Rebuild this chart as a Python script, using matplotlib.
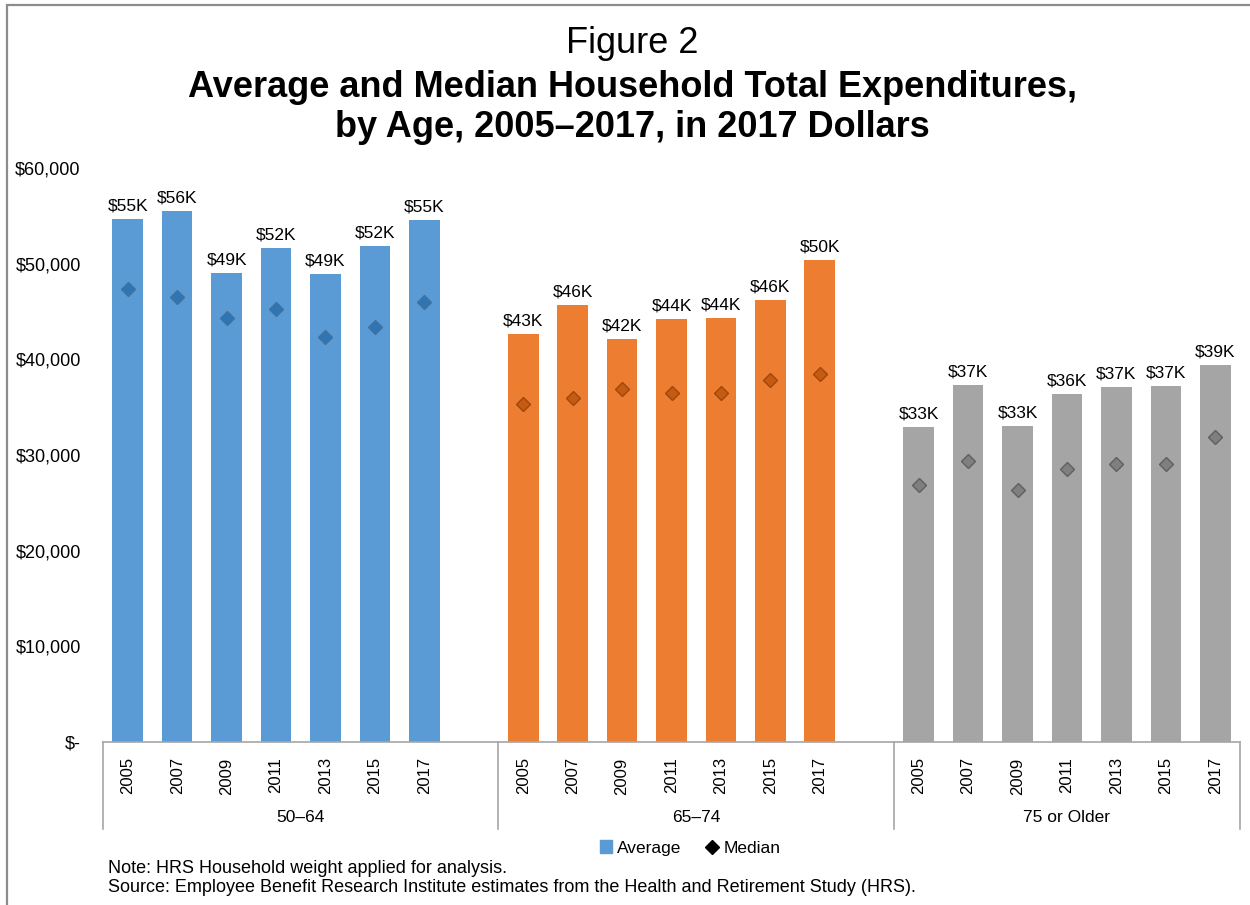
import numpy as np
import matplotlib
matplotlib.use('Agg')
import matplotlib.pyplot as plt
from matplotlib.lines import Line2D
from matplotlib.patches import Patch, Rectangle
from matplotlib.ticker import FuncFormatter

plt.rcParams['font.family'] = ['Liberation Sans', 'DejaVu Sans']

age_groups = ['50–64', '65–74', '75 or Older']
years = ['2005', '2007', '2009', '2011', '2013', '2015', '2017']

# household total expenditures, 2017 dollars
average_50_64 = [54700, 55550, 49000, 51600, 48900, 51800, 54550]
median_50_64 = [47400, 46500, 44300, 45300, 42300, 43400, 46000]
average_65_74 = [42600, 45700, 42100, 44200, 44300, 46200, 50400]
median_65_74 = [35300, 36000, 36900, 36500, 36500, 37800, 38500]
average_75_plus = [32900, 37300, 33000, 36400, 37100, 37200, 39400]
median_75_plus = [26900, 29400, 26300, 28500, 29100, 29100, 31900]

averages = [average_50_64, average_65_74, average_75_plus]
medians = [median_50_64, median_65_74, median_75_plus]
bar_colors = ['#5B9BD5', '#ED7D31', '#A5A5A5']
median_colors = ['#2E75B6', '#C55A11', '#7F7F7F']
median_edges = ['#41719C', '#A0470E', '#606060']
axis_gray = '#A6A6A6'

fig = plt.figure(figsize=(12.5, 9.05), dpi=100)
ax = fig.add_axes([103 / 1250, 1 - 742 / 905, 1137 / 1250, 574 / 905])

tick_pos, tick_lab = [], []
bounds = [-0.5]
start = 0
for g, name in enumerate(age_groups):
    x = np.arange(len(years)) + start
    ax.bar(x, averages[g], width=0.62, color=bar_colors[g], zorder=2)
    ax.plot(x, medians[g], linestyle='none', marker='D', ms=7,
            mfc=median_colors[g], mec=median_edges[g], mew=1, zorder=3)
    for xi, v in zip(x, averages[g]):
        ax.annotate('${:.0f}K'.format(v / 1000), (xi, v), xytext=(0, 4),
                    textcoords='offset points', ha='center', va='bottom',
                    fontsize=12.5)
    tick_pos += list(x)
    tick_lab += years
    # one empty slot between groups, none after the last
    end = x[-1] + (1.5 if g < len(age_groups) - 1 else 0.5)
    bounds.append(end)
    start = x[-1] + 2

ax.set_xlim(-0.5, bounds[-1])
ax.set_ylim(0, 60000)
ax.set_yticks(range(0, 60001, 10000))
ax.yaxis.set_major_formatter(FuncFormatter(
    lambda v, p: '$-' if v == 0 else '${:,.0f}'.format(v)))
ax.set_xticks(tick_pos, tick_lab, rotation=90)
ax.tick_params(axis='y', length=0, pad=16, labelsize=13)
ax.tick_params(axis='x', length=0, pad=11, labelsize=12)
for s in ['top', 'right', 'left']:
    ax.spines[s].set_visible(False)
ax.spines['bottom'].set_color(axis_gray)
ax.spines['bottom'].set_linewidth(1.2)

# group separators and group names under the year labels
trans = ax.get_xaxis_transform()
for b in bounds:
    ax.plot([b, b], [0, -0.1516], transform=trans, color=axis_gray, lw=1.2,
            clip_on=False)
for g, name in enumerate(age_groups):
    ax.text((bounds[g] + bounds[g + 1]) / 2, -0.1324, name, transform=trans,
            ha='center', va='center', fontsize=12.5)

handles = [Patch(color=bar_colors[0], label='Average'),
           Line2D([], [], marker='D', color='black', ls='none', ms=7,
                  label='Median')]
fig.legend(handles=handles, loc='center', bbox_to_anchor=(0.552, 1 - 848 / 905),
           ncol=2, frameon=False, fontsize=12.5, handlelength=0.7,
           handleheight=0.7, handletextpad=0.3, columnspacing=1.4)

fig.text(108 / 1250, 1 - 868 / 905,
         'Note: HRS Household weight applied for analysis.',
         va='center', fontsize=13)
fig.text(108 / 1250, 1 - 887 / 905,
         'Source: Employee Benefit Research Institute estimates from the '
         'Health and Retirement Study (HRS).', va='center', fontsize=13)

fig.text(0.506, 1 - 53 / 905, 'Figure 2', ha='center', va='baseline',
         fontsize=26)
fig.text(0.506, 1 - 97 / 905,
         'Average and Median Household Total Expenditures,',
         ha='center', va='baseline', fontsize=26, fontweight='bold')
fig.text(0.506, 1 - 137 / 905, 'by Age, 2005–2017, in 2017 Dollars',
         ha='center', va='baseline', fontsize=26, fontweight='bold')

# outer frame, left and top edges only show
fig.add_artist(Rectangle((7 / 1250, -0.1), 1.2, 1 - 5 / 905 + 0.1,
                         transform=fig.transFigure, fill=False,
                         ec='#8C8C8C', lw=1.6))

fig.savefig('out.png', dpi=100)
